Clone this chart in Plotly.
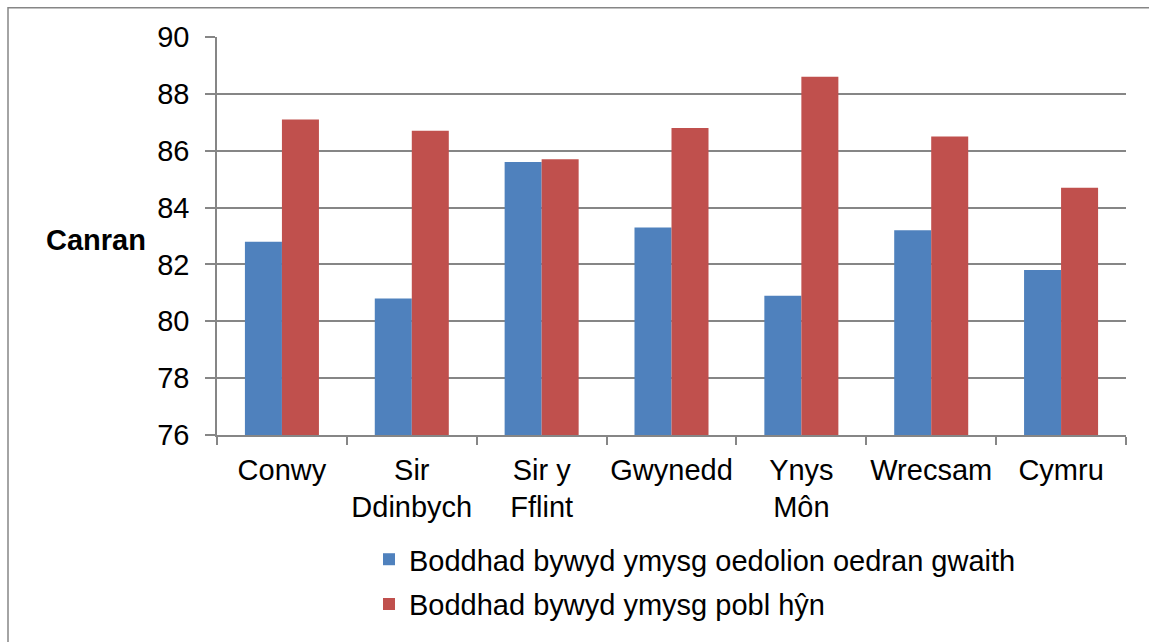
import plotly.graph_objects as go

categories = ["Conwy", "Sir<br>Ddinbych", "Sir y<br>Fflint", "Gwynedd", "Ynys<br>Môn", "Wrecsam", "Cymru"]
working_age = [82.8, 80.8, 85.6, 83.3, 80.9, 83.2, 81.8]
older_people = [87.1, 86.7, 85.7, 86.8, 88.6, 86.5, 84.7]
series_names = ["Boddhad bywyd ymysg oedolion oedran gwaith", "Boddhad bywyd ymysg pobl hŷn"]
y_ticks = [76, 78, 80, 82, 84, 86, 88, 90]

FONT = "Liberation Sans, Arial, sans-serif"
GRID = "#868686"
FS = 29
W, H = 1149, 642
L, R, T, B = 217, 23, 37, 205
pw, ph = W - L - R, H - T - B

def px_x(p):
    return (p - L) / pw

def px_y(p):
    return (H - B - p) / ph

fig = go.Figure()
fig.add_trace(go.Bar(x=categories, y=working_age, name=series_names[0],
                     marker=dict(color="#4F81BD", line=dict(width=0)), legend="legend"))
fig.add_trace(go.Bar(x=categories, y=older_people, name=series_names[1],
                     marker=dict(color="#C0504D", line=dict(width=0)), legend="legend2"))

fig.update_layout(
    width=W, height=H,
    margin=dict(l=L, r=R, t=T, b=B, pad=0),
    paper_bgcolor="white", plot_bgcolor="white",
    font=dict(family=FONT, size=FS, color="black"),
    barmode="group", bargap=0.43, bargroupgap=0,
    legend=dict(x=px_x(369), y=px_y(562), xanchor="left", yanchor="middle",
                font=dict(size=FS), bgcolor="rgba(0,0,0,0)", borderwidth=0),
    legend2=dict(x=px_x(369), y=px_y(607), xanchor="left", yanchor="middle",
                 font=dict(size=FS), bgcolor="rgba(0,0,0,0)", borderwidth=0),
    showlegend=True,
)
fig.update_xaxes(
    showgrid=False, showline=True, linecolor=GRID, linewidth=1.5,
    ticks="outside", tickson="boundaries", ticklen=8, tickcolor=GRID, tickwidth=1.5,
    tickfont=dict(size=FS), tickangle=0, ticklabelstandoff=8, fixedrange=True,
)
fig.update_yaxes(
    range=[76, 90], tickvals=y_ticks, showgrid=True, gridcolor=GRID, gridwidth=1.5,
    showline=True, linecolor=GRID, linewidth=1.5, zeroline=False,
    ticks="outside", ticklen=10, tickcolor=GRID, tickwidth=1.5,
    tickfont=dict(size=FS), ticklabelstandoff=10, fixedrange=True,
)
fig.add_annotation(text="<b>Canran</b>", xref="paper", yref="paper",
                   x=px_x(96), y=px_y(241), xanchor="center", yanchor="middle",
                   showarrow=False, font=dict(size=FS, family=FONT))
fig.add_shape(type="rect", xref="paper", yref="paper",
              x0=px_x(8), x1=px_x(1200), y0=px_y(700), y1=px_y(7.5),
              line=dict(color=GRID, width=1.5), fillcolor="rgba(0,0,0,0)", layer="below")

fig.write_html("out.html", config={"displayModeBar": False},
               post_script="document.body.style.margin='0';document.body.style.overflow='hidden';")
